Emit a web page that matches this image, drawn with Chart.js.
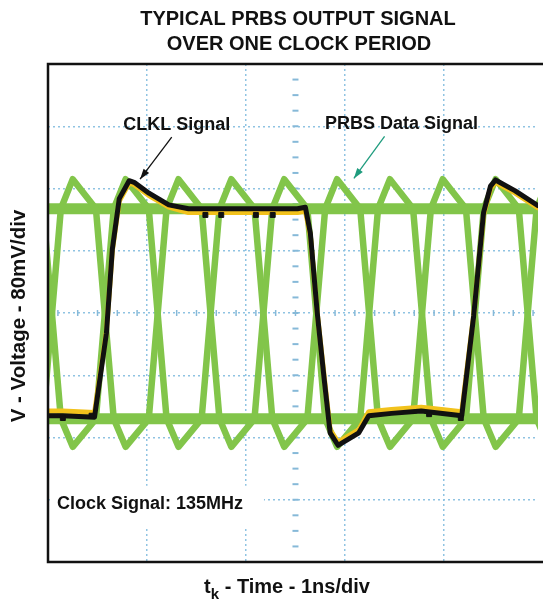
<!DOCTYPE html>
<html>
<head>
<meta charset="utf-8">
<script src="https://cdn.jsdelivr.net/npm/chart.js@4.4.1/dist/chart.umd.min.js"></script>
<style>
  html, body { margin: 0; padding: 0; background: #ffffff; }
  canvas { display: block; }
</style>
</head>
<body>
<canvas id="scope" width="543" height="603"></canvas>
<script>
// time in ns (1 ns/div), voltage in mV (80 mV/div)

// CLKL clock trace (black)
const clkTime = [0, 0.15, 0.47, 0.59, 0.65, 0.72, 0.82, 0.87, 1.02, 1.22, 1.42, 1.59, 2.52, 2.60, 2.65, 2.72, 2.79, 2.85, 2.93, 3.14, 3.24, 3.47, 3.77, 4.18, 4.30, 4.40, 4.47, 4.52, 4.72, 4.95];
const clkMv   = [-132, -132, -134, -26, 82, 147, 170, 168, 154, 139, 134, 134, 134, 136, 103, 0, -85, -154, -170, -154, -132, -129, -126, -132, -4, 129, 163, 171, 157, 138];
// complementary trace peeking out from under the clock (yellow)
const clkShadowMv = [-126, -126, -128, -24, 80, 144, 167, 165, 151, 136, 129, 129, 129, 131, 100, 0, -82, -150, -166, -150, -127, -124, -121, -127, -3, 126, 160, 168, 154, 135];
// spots where the clock trace thickens
const clkSpotTime = [0.15, 0.44, 1.59, 1.75, 2.10, 2.27, 3.85, 4.17];
const clkSpotMv   = [-135, -132, 126, 126, 126, 126, -130, -135];

// PRBS eye pattern (green): two opposite-phase traces plus the settled rails
const prbsTime = [-0.05, 0.13, 0.25, 0.484, 0.664, 0.784, 1.018, 1.198, 1.318, 1.552, 1.732, 1.852, 2.086, 2.266, 2.386, 2.62, 2.80, 2.92, 3.154, 3.334, 3.454, 3.688, 3.868, 3.988, 4.222, 4.402, 4.522, 4.756, 4.936, 5.056];
const prbsUpMv   = [-136, 134, 172, 134, -136, -172, -136, 134, 172, 134, -136, -172, -136, 134, 172, 134, -136, -172, -136, 134, 172, 134, -136, -172, -136, 134, 172, 134, -136, -172];
const prbsDownMv = [134, -136, -172, -136, 134, 172, 134, -136, -172, -136, 134, 172, 134, -136, -172, -136, 134, 172, 134, -136, -172, -136, 134, 172, 134, -136, -172, -136, 134, 172];
const railTime = [0, 4.95];
const railHighMv = [134, 134];
const railLowMv = [-136, -136];

const xMax = 4.95;
const yMin = -320, yMax = 320;

const GREEN = '#82c54a';
const FONT = '"Liberation Sans", Arial, sans-serif';

function pts(xs, ys) {
    return xs.map((x, i) => ({ x: x, y: ys[i] }));
}

function traceSet(label, xs, ys, color, width) {
    return {
        label: label,
        data: pts(xs, ys),
        borderColor: color,
        backgroundColor: color,
        borderWidth: width,
        pointRadius: 0,
        tension: 0,
        fill: false,
        borderJoinStyle: 'round',
        borderCapStyle: 'round',
        clip: 0
    };
}

// small tick marks on the centre axes, like a scope graticule
const graticulePlugin = {
    id: 'graticule',
    beforeDatasetsDraw(chart) {
        const c = chart.ctx, x = chart.scales.x, y = chart.scales.y;
        c.save();
        c.strokeStyle = '#86b9d8';
        c.lineWidth = 1.5;
        const y0 = y.getPixelForValue(0);
        for (let t = 0.1; t < xMax; t += 0.2) {
            const px = x.getPixelForValue(t);
            c.beginPath(); c.moveTo(px, y0 - 3); c.lineTo(px, y0 + 3); c.stroke();
        }
        const xc = x.getPixelForValue(2.5);
        c.lineWidth = 2;
        for (let v = yMin + 20; v < yMax; v += 20) {
            const py = y.getPixelForValue(v);
            c.beginPath(); c.moveTo(xc - 3, py); c.lineTo(xc + 3, py); c.stroke();
        }
        c.restore();
    }
};

function arrow(c, x1, y1, x2, y2, color) {
    c.strokeStyle = color;
    c.fillStyle = color;
    c.lineWidth = 1.3;
    c.beginPath(); c.moveTo(x1, y1); c.lineTo(x2, y2); c.stroke();
    const a = Math.atan2(y2 - y1, x2 - x1), len = 11, half = 0.32;
    c.beginPath();
    c.moveTo(x2, y2);
    c.lineTo(x2 - len * Math.cos(a - half), y2 - len * Math.sin(a - half));
    c.lineTo(x2 - len * Math.cos(a + half), y2 - len * Math.sin(a + half));
    c.closePath();
    c.fill();
}

const labelsPlugin = {
    id: 'labels',
    afterDraw(chart) {
        const c = chart.ctx, x = chart.scales.x, y = chart.scales.y, a = chart.chartArea;
        c.save();

        // frame (right side runs off the picture)
        c.strokeStyle = '#111';
        c.lineWidth = 2.5;
        c.beginPath();
        c.moveTo(chart.width + 2, a.top);
        c.lineTo(a.left, a.top);
        c.lineTo(a.left, a.bottom);
        c.lineTo(chart.width + 2, a.bottom);
        c.stroke();

        // in-plot annotations
        c.fillStyle = '#111';
        c.font = 'bold 18px ' + FONT;
        c.textBaseline = 'middle';
        c.textAlign = 'center';
        c.fillText('CLKL Signal', x.getPixelForValue(1.30), y.getPixelForValue(242));
        c.fillText('PRBS Data Signal', x.getPixelForValue(3.57), y.getPixelForValue(243));
        arrow(c, x.getPixelForValue(1.25), y.getPixelForValue(226), x.getPixelForValue(0.93), y.getPixelForValue(172), '#111');
        arrow(c, x.getPixelForValue(3.40), y.getPixelForValue(227), x.getPixelForValue(3.09), y.getPixelForValue(173), '#1f9c7e');

        const bx = x.getPixelForValue(0.04), by = y.getPixelForValue(-222);
        c.fillStyle = '#ffffff';
        c.fillRect(bx, by, 212, 42);
        c.fillStyle = '#111';
        c.textAlign = 'left';
        c.fillText('Clock Signal: 135MHz', x.getPixelForValue(0.09), y.getPixelForValue(-245));

        // titles
        c.font = 'bold 20px ' + FONT;
        c.textAlign = 'center';
        c.textBaseline = 'alphabetic';
        c.fillText('TYPICAL PRBS OUTPUT SIGNAL', 298, 25);
        c.fillText('OVER ONE CLOCK PERIOD', 299, 50);

        // x axis title with subscript
        const rest = ' - Time - 1ns/div';
        c.textAlign = 'left';
        const wt = c.measureText('t').width;
        const wr = c.measureText(rest).width;
        c.font = 'bold 15px ' + FONT;
        const wk = c.measureText('k').width;
        let sx = 287 - (wt + wk + wr) / 2;
        c.font = 'bold 20px ' + FONT;
        c.fillText('t', sx, 593);
        c.font = 'bold 15px ' + FONT;
        c.fillText('k', sx + wt, 599);
        c.font = 'bold 20px ' + FONT;
        c.fillText(rest, sx + wt + wk, 593);

        // y axis title
        c.font = 'bold 20.5px ' + FONT;
        c.translate(25, 316);
        c.rotate(-Math.PI / 2);
        c.textAlign = 'center';
        c.fillText('V - Voltage - 80mV/div', 0, 0);

        c.restore();
    }
};

const gridColor = ctx => (Number.isInteger(ctx.tick.value) ? '#8fc3e2' : 'rgba(0,0,0,0)');

new Chart(document.getElementById('scope'), {
    type: 'line',
    data: {
        datasets: [
            {
                label: 'CLKL spots',
                data: pts(clkSpotTime, clkSpotMv),
                showLine: false,
                pointStyle: 'rect',
                pointRadius: 3.5,
                pointBackgroundColor: '#111',
                pointBorderColor: '#111',
                clip: 0
            },
            traceSet('CLKL Signal', clkTime, clkMv, '#111111', 5),
            traceSet('CLKL shadow', clkTime, clkShadowMv, '#f2c21c', 5),
            traceSet('PRBS rising', prbsTime, prbsUpMv, GREEN, 6.5),
            traceSet('PRBS falling', prbsTime, prbsDownMv, GREEN, 6.5),
            traceSet('PRBS high', railTime, railHighMv, GREEN, 11),
            traceSet('PRBS low', railTime, railLowMv, GREEN, 11)
        ]
    },
    options: {
        responsive: false,
        animation: false,
        events: [],
        layout: { padding: { left: 48, top: 64, right: 0, bottom: 41 } },
        plugins: {
            legend: { display: false },
            tooltip: { enabled: false },
            title: { display: false }
        },
        scales: {
            x: {
                type: 'linear',
                min: 0,
                max: xMax,
                ticks: { display: false, stepSize: 1 },
                grid: { color: gridColor, lineWidth: 1.5, drawTicks: false },
                border: { display: false, dash: [2, 3] }
            },
            y: {
                type: 'linear',
                min: yMin,
                max: yMax,
                ticks: { display: false, stepSize: 80 },
                grid: { color: gridColor, lineWidth: 1.5, drawTicks: false },
                border: { display: false, dash: [2, 3] }
            }
        }
    },
    plugins: [graticulePlugin, labelsPlugin]
});
</script>
</body>
</html>
